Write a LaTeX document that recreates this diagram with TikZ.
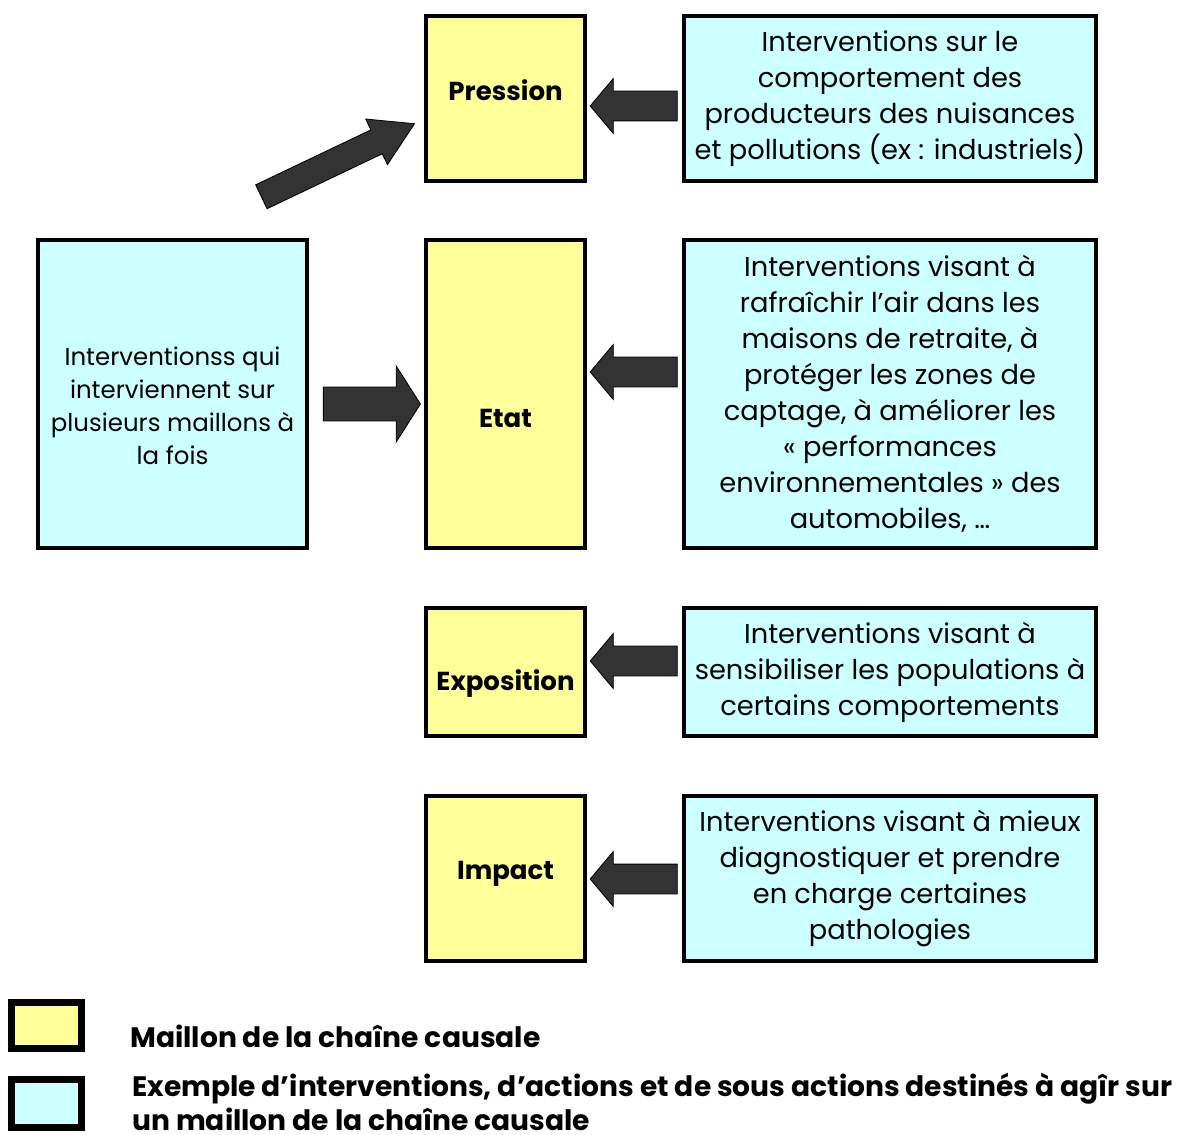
\documentclass[tikz,border=0pt]{standalone}
\usepackage{fontspec}
\setmainfont{Poppins}
\usepackage{tikz}
\usetikzlibrary{shapes.arrows, calc}
\definecolor{maillon}{HTML}{FFFF99}
\definecolor{action}{HTML}{CCFFFF}
\definecolor{flecheGris}{HTML}{333333}
\tikzset{
    chain/.style={
        rectangle, draw=black, line width=3.4pt, fill=maillon, minimum width=3.975cm,
        align=center, inner sep=0pt
    },
    chainlabel/.style={
        font=\fontsize{18.5}{24}\selectfont\bfseries, inner sep=0pt
    },
    interv/.style={
        rectangle, draw=black, line width=3.4pt, fill=action, minimum width=10.3cm,
        align=center, inner sep=0pt, font=\fontsize{19.4}{25.6}\selectfont
    },
    legendbox/.style={
        rectangle, draw=black, line width=5pt, minimum width=1.75cm, inner sep=0pt
    },
    legendtext/.style={
        anchor=west, align=left, inner sep=0pt, font=\fontsize{20}{24.3}\selectfont\bfseries
    },
    bigarrow/.style={
        single arrow, draw=black, line width=0.6pt, fill=flecheGris, inner xsep=0pt
    },
    arrow_left/.style={
        bigarrow, shape border rotate=180, minimum height=2.175cm, inner ysep=0.3625cm,
        single arrow head extend=0.3125cm, single arrow tip angle=100
    }
}
\begin{document}
\begin{tikzpicture}[x=0.025cm, y=-0.025cm]
    \useasboundingbox (0,0) rectangle (1184,1135);
    % maillons de la chaine causale
    \node[chain, minimum height=4.125cm, label={[chainlabel, yshift=0.22cm]center:Pression}] (pression) at (505.5, 98.5) {};
    \node[chain, minimum height=7.7cm, label={[chainlabel, yshift=-0.6cm]center:Etat}] (etat) at (505.5, 394) {};
    \node[chain, minimum height=3.2cm, label={[chainlabel, yshift=-0.3cm]center:Exposition}] (expo) at (505.5, 672) {};
    \node[chain, minimum height=4.125cm, label={[chainlabel, yshift=0.12cm]center:Impact}] (impact) at (505.5, 878.5) {};

    % interventions
    \node[interv, minimum height=4.125cm] (intPression) at (890, 98.5) {Interventions sur le\\comportement des\\producteurs des nuisances\\et pollutions (ex : industriels)};
    \node[interv, minimum height=7.7cm] (intEtat) at (890, 394) {Interventions visant à\\rafraîchir l’air dans les\\maisons de retraite, à\\protéger les zones de\\captage, à améliorer les\\« performances\\environnementales » des\\automobiles, …};
    \node[interv, minimum height=3.2cm] (intExpo) at (890, 672) {Interventions visant à\\sensibiliser les populations à\\certains comportements};
    \node[interv, minimum height=4.125cm] (intImpact) at (890, 878.5) {Interventions visant à mieux\\diagnostiquer et prendre\\en charge certaines\\pathologies};
    \node[interv, minimum width=6.725cm, minimum height=7.7cm,
        label={[align=center, font=\fontsize{17.4}{23.5}\selectfont, yshift=-0.3cm]center:Interventionss qui\\interviennent sur\\plusieurs maillons à\\la fois}] (plusieurs) at (172.5, 394) {};

    % fleches
    \node[arrow_left] (fPression) at (640, 106) {};
    \node[arrow_left] (fEtat) at (640, 372) {};
    \node[arrow_left] (fExpo) at (640, 661) {};
    \node[arrow_left] (fImpact) at (640, 879) {};
    \node[bigarrow, minimum height=2.425cm, inner ysep=0.4125cm, single arrow head extend=0.525cm, single arrow tip angle=115] (fPlusieurs) at (366.5, 404) {};
    \node[bigarrow, rotate=25.5, minimum height=4.24cm, inner ysep=0.32cm, single arrow head extend=0.3cm, single arrow tip angle=62] (fDiag) at (328, 165) {};

    % legende
    \node[legendbox, fill=maillon, minimum height=1.15cm] (legMaillon) at (46.5, 1025.5) {};
    \node[legendbox, fill=action, minimum height=1.2cm] (legAction) at (46.5, 1103.5) {};
    \node[legendtext] (txtMaillon) at (130, 1036) {Maillon de la chaîne causale};
    \node[legendtext, anchor=north west] (txtAction) at (132, 1073) {\makebox[26cm][s]{Exemple d’interventions, d’actions et de sous actions destinés à agîr sur}\\un maillon de la chaîne causale};
\end{tikzpicture}
\end{document}
